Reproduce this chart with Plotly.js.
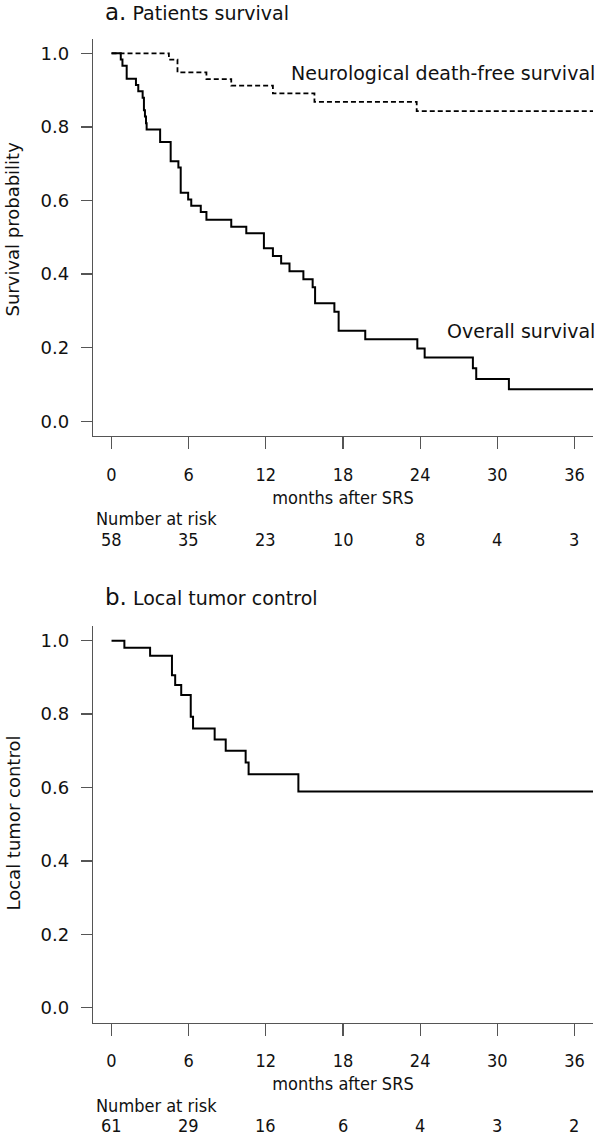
<!DOCTYPE html>
<html>
<head>
<meta charset="utf-8">
<script src="https://cdn.plot.ly/plotly-3.0.1.min.js"></script>
<style>html,body{margin:0;padding:0;background:#fff;}#chart{width:600px;height:1136px;}</style>
</head>
<body>
<div id="chart"></div>
<script>
// ---- data ----
var monthTicks = [0, 6, 12, 18, 24, 30, 36];
var riskA = [58, 35, 23, 10, 8, 4, 3];
var riskB = [61, 29, 16, 6, 4, 3, 2];
var yTicks = [0, 0.2, 0.4, 0.6, 0.8, 1.0];
var yTickText = ['0.0', '0.2', '0.4', '0.6', '0.8', '1.0'];

// Overall survival (panel a, solid)
var osTime = [0, 0.72, 0.85, 1.18, 1.9, 2.08, 2.42, 2.52, 2.6, 2.68, 2.73, 3.78, 4.6, 5.2, 5.38, 5.96, 6.2, 6.94, 7.38, 9.31, 10.48, 11.85, 12.55, 13.19, 13.84, 14.92, 15.64, 15.83, 17.33, 17.66, 19.73, 23.78, 24.35, 28.1, 28.36, 30.9, 37.5];
var osSurv = [1.0, 0.983, 0.966, 0.931, 0.914, 0.897, 0.879, 0.845, 0.828, 0.810, 0.793, 0.759, 0.707, 0.690, 0.621, 0.603, 0.586, 0.569, 0.548, 0.529, 0.511, 0.470, 0.449, 0.429, 0.408, 0.386, 0.364, 0.321, 0.298, 0.246, 0.223, 0.198, 0.173, 0.144, 0.115, 0.087, 0.087];

// Neurological death-free survival (panel a, dashed)
var ndTime = [0, 4.46, 5.13, 7.38, 9.31, 12.55, 15.78, 23.73, 37.5];
var ndSurv = [1.0, 0.983, 0.948, 0.930, 0.912, 0.891, 0.868, 0.843, 0.843];

// Local tumor control (panel b)
var ltcTime = [0, 1.0, 3.0, 4.7, 4.95, 5.42, 6.16, 6.34, 8.02, 8.88, 10.43, 10.66, 14.53, 37.5];
var ltcProb = [1.0, 0.981, 0.959, 0.906, 0.879, 0.852, 0.793, 0.761, 0.731, 0.700, 0.668, 0.636, 0.589, 0.589];

// ---- styling ----
var W = 600, H = 1136;
var NORMAL = "'DejaVu Sans', 'Liberation Sans', sans-serif";
var COND = "'DejaVu Sans Condensed', 'Liberation Sans Narrow', 'DejaVu Sans', sans-serif";
var TXT = '#111';
var AX = '#555';
function py(p) { return 1 - p / H; }
function pxX(p) { return (p - 93) / 500; }

var traces = [
  {x: osTime, y: osSurv, xaxis: 'x', yaxis: 'y', mode: 'lines', line: {shape: 'hv', color: '#000', width: 2}, hoverinfo: 'skip'},
  {x: ndTime, y: ndSurv, xaxis: 'x', yaxis: 'y', mode: 'lines', line: {shape: 'hv', color: '#000', width: 1.8, dash: '5px,3px'}, hoverinfo: 'skip'},
  {x: ltcTime, y: ltcProb, xaxis: 'x2', yaxis: 'y2', mode: 'lines', line: {shape: 'hv', color: '#000', width: 2}, hoverinfo: 'skip'}
];

function xax(anchor) {
  return {
    domain: [0, 1], anchor: anchor, range: [-1.44, 37.44], tickmode: 'array', tickvals: monthTicks,
    ticks: 'outside', ticklen: 12, tickwidth: 1.3, tickcolor: AX,
    showline: true, linecolor: AX, linewidth: 1.3, showgrid: false, zeroline: false,
    tickfont: {family: COND, size: 18, color: TXT}, ticklabelstandoff: 10,
    title: {text: 'months after SRS', font: {family: COND, size: 18, color: TXT}, standoff: 7},
    fixedrange: true
  };
}
function yax(anchor, dom) {
  return {
    domain: dom, anchor: anchor, range: [-0.04, 1.04], tickmode: 'array', tickvals: yTicks, ticktext: yTickText,
    ticks: 'outside', ticklen: 11, tickwidth: 1.3, tickcolor: AX,
    showline: true, linecolor: AX, linewidth: 1.3, showgrid: false, zeroline: false,
    tickfont: {family: NORMAL, size: 18, color: TXT}, ticklabelstandoff: 8,
    fixedrange: true
  };
}

var annotations = [
  {xref: 'paper', yref: 'paper', x: pxX(103), y: py(12), xanchor: 'left', yanchor: 'middle', showarrow: false,
   text: "<span style='font-size:23px'>a.</span> Patients survival", font: {family: NORMAL, size: 19, color: TXT}},
  {xref: 'paper', yref: 'paper', x: pxX(103), y: py(597), xanchor: 'left', yanchor: 'middle', showarrow: false,
   text: "<span style='font-size:23px'>b.</span> Local tumor control", font: {family: NORMAL, size: 19, color: TXT}},
  {xref: 'paper', yref: 'y', x: pxX(597), y: 0.946, xanchor: 'right', yanchor: 'middle', showarrow: false,
   text: 'Neurological death-free survival', font: {family: NORMAL, size: 19, color: TXT}},
  {xref: 'paper', yref: 'y', x: pxX(597), y: 0.245, xanchor: 'right', yanchor: 'middle', showarrow: false,
   text: 'Overall survival', font: {family: NORMAL, size: 19, color: TXT}},
  {xref: 'paper', yref: 'paper', x: pxX(12.5), y: py(229), xanchor: 'center', yanchor: 'middle', textangle: -90, showarrow: false,
   text: 'Survival probability', font: {family: NORMAL, size: 18, color: TXT}},
  {xref: 'paper', yref: 'paper', x: pxX(12.5), y: py(823), xanchor: 'center', yanchor: 'middle', textangle: -90, showarrow: false,
   text: 'Local tumor control', font: {family: NORMAL, size: 18, color: TXT}},
  {xref: 'paper', yref: 'paper', x: pxX(94), y: py(518), xanchor: 'left', yanchor: 'middle', showarrow: false,
   text: 'Number at risk', font: {family: COND, size: 18, color: TXT}},
  {xref: 'paper', yref: 'paper', x: pxX(94), y: py(1105), xanchor: 'left', yanchor: 'middle', showarrow: false,
   text: 'Number at risk', font: {family: COND, size: 18, color: TXT}}
];
monthTicks.forEach(function (m, i) {
  annotations.push({xref: 'x', yref: 'paper', x: m, y: py(540), xanchor: 'center', yanchor: 'middle', showarrow: false,
    text: String(riskA[i]), font: {family: COND, size: 18, color: TXT}});
  annotations.push({xref: 'x2', yref: 'paper', x: m, y: py(1125), xanchor: 'center', yanchor: 'middle', showarrow: false,
    text: String(riskB[i]), font: {family: COND, size: 18, color: TXT}});
});

var layout = {
  width: W, height: H,
  margin: {l: 93, r: 7, t: 0, b: 0},
  paper_bgcolor: '#fff', plot_bgcolor: '#fff',
  showlegend: false,
  xaxis: xax('y'),
  yaxis: yax('x', [py(436), py(38.6)]),
  xaxis2: xax('y2'),
  yaxis2: yax('x2', [py(1022.5), py(626)]),
  annotations: annotations
};

Plotly.newPlot('chart', traces, layout, {staticPlot: true, displayModeBar: false});
</script>
</body>
</html>
